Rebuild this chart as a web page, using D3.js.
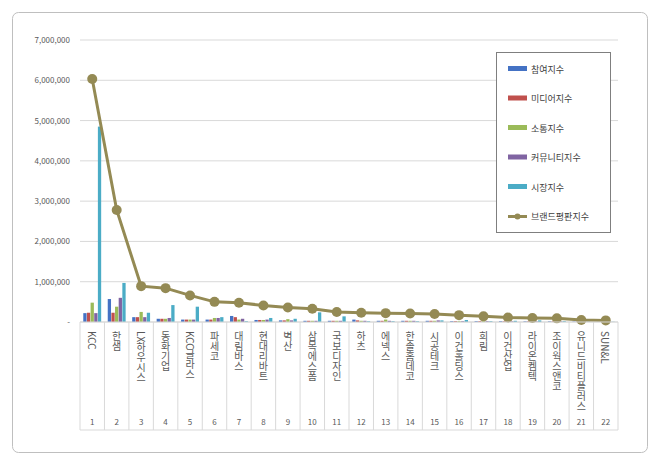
<!DOCTYPE html>
<html><head><meta charset="utf-8">
<script src="https://cdn.jsdelivr.net/npm/d3@7"></script>
<style>body{margin:0;background:#fff}text{font-family:"Noto Sans CJK KR","Noto Sans",sans-serif}</style>
</head><body><svg id="c" width="660" height="467"></svg>
<script>
const categories=["KCC","한샘","LX하우시스","동화기업","KCC글라스","파세코","대림바스","현대리바트","벽산","삼목에스폼","국보디자인","하츠","에넥스","한솔홈데코","시공테크","이건홀딩스","희림","이건산업","라이온켐텍","조이웍스앤코","유니드비티플러스","SUN&L"];
const ranks=categories.map((d,i)=>String(i+1));
const participation=[220000,570000,120000,80000,60000,60000,150000,50000,40000,30000,30000,60000,30000,30000,30000,20000,20000,20000,15000,15000,10000,5000];
const media=[230000,230000,120000,80000,60000,60000,120000,50000,40000,30000,30000,40000,30000,30000,30000,20000,20000,15000,15000,15000,10000,5000];
const communication=[480000,380000,250000,80000,60000,100000,60000,50000,70000,30000,30000,30000,60000,30000,30000,20000,30000,15000,20000,15000,10000,5000];
const community=[220000,600000,120000,100000,60000,100000,80000,60000,40000,30000,30000,30000,30000,30000,40000,20000,20000,15000,15000,15000,10000,5000];
const market=[4850000,970000,230000,420000,380000,120000,20000,100000,80000,240000,140000,20000,20000,20000,40000,50000,20000,30000,40000,20000,10000,5000];
const brand=[6030000,2780000,890000,840000,660000,500000,480000,410000,360000,330000,250000,230000,220000,210000,200000,170000,140000,110000,100000,90000,50000,40000];
const yTicks=[0,1000000,2000000,3000000,4000000,5000000,6000000,7000000];
const seriesNames=["참여지수","미디어지수","소통지수","커뮤니티지수","시장지수"];
const colors=["#4472c4","#c0504d","#9bbb59","#8064a2","#4bacc6"];
const lineColor="#948a54";
const seriesData=[participation,media,communication,community,market];

const svg=d3.select("#c");
svg.append("rect").attr("x",12.5).attr("y",12.5).attr("width",635).attr("height",440).attr("rx",6).attr("fill","#fff").attr("stroke","#bfbfbf");
const L=80,R=618,T=40,B=322;
const x=d3.scaleBand().domain(categories).range([L,R]);
const y=d3.scaleLinear().domain([0,7000000]).range([B,T]);
const g=svg.append("g");
g.selectAll(".gl").data(yTicks).join("line").attr("x1",L).attr("x2",R).attr("y1",d=>y(d)).attr("y2",d=>y(d)).attr("stroke","#d9d9d9");
g.selectAll(".yt").data(yTicks).join("text").attr("x",L-10).attr("y",d=>y(d)+3).attr("text-anchor","end").attr("font-size",8).attr("fill","#595959").text(d=>d===0?"-":d3.format(",")(d));
const xs=d3.scaleBand().domain(d3.range(5)).range([0,x.bandwidth()]).paddingOuter(0.9).paddingInner(0.1);
seriesData.forEach((s,k)=>{
 g.selectAll(".b"+k).data(s).join("rect").attr("x",(d,i)=>x(categories[i])+xs(k)).attr("width",xs.bandwidth()).attr("y",d=>y(d)).attr("height",d=>B-y(d)).attr("fill",colors[k]);
});
const tb=svg.append("g").attr("stroke","#d9d9d9");
tb.append("line").attr("x1",L).attr("x2",R).attr("y1",B).attr("y2",B);
tb.append("line").attr("x1",L).attr("x2",R).attr("y1",430).attr("y2",430);
categories.forEach((c,i)=>{tb.append("line").attr("x1",x(c)).attr("x2",x(c)).attr("y1",B).attr("y2",430);});
tb.append("line").attr("x1",R).attr("x2",R).attr("y1",B).attr("y2",430);
categories.forEach((c,i)=>{
 const cx=x(c)+x.bandwidth()/2;
 svg.append("text").attr("x",cx).attr("y",B+9).attr("style","writing-mode:vertical-rl;text-orientation:mixed").attr("font-size",10).attr("fill","#595959").text(c);
 svg.append("text").attr("x",cx).attr("y",425).attr("text-anchor","middle").attr("font-size",8).attr("fill","#595959").text(ranks[i]);
});
const line=d3.line().x((d,i)=>x(categories[i])+x.bandwidth()/2).y(d=>y(d));
g.append("path").datum(brand).attr("d",line).attr("fill","none").attr("stroke",lineColor).attr("stroke-width",3);
g.selectAll(".dot").data(brand).join("circle").attr("cx",(d,i)=>x(categories[i])+x.bandwidth()/2).attr("cy",d=>y(d)).attr("r",5).attr("fill",lineColor);
const lg=svg.append("g");
lg.append("rect").attr("x",496.5).attr("y",52.5).attr("width",114).attr("height",180).attr("fill","#fff").attr("stroke","#7f7f7f");
seriesNames.concat(["브랜드평판지수"]).forEach((n,i)=>{
 const yy=69+i*29.5;
 if(i<5) lg.append("rect").attr("x",508).attr("y",yy-3).attr("width",19).attr("height",5).attr("fill",colors[i]);
 else {lg.append("line").attr("x1",508).attr("x2",527).attr("y1",yy).attr("y2",yy).attr("stroke",lineColor).attr("stroke-width",3);
  lg.append("circle").attr("cx",517.5).attr("cy",yy).attr("r",3).attr("fill",lineColor);}
 lg.append("text").attr("x",531).attr("y",yy+3.5).attr("font-size",9).attr("fill","#404040").text(n);
});
</script></body></html>
